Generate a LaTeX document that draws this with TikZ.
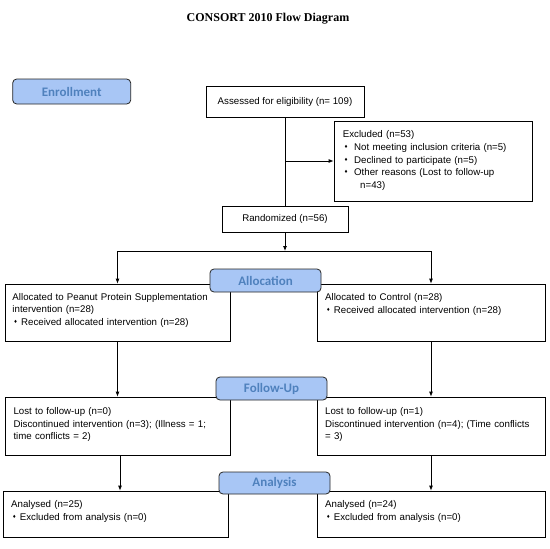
\documentclass[tikz,border=0pt]{standalone}
\usepackage{fontspec}
\setmainfont{Liberation Sans}
\newfontfamily\titlefont{Liberation Serif}
\newfontfamily\labfont{Carlito}
\newfontfamily\dejavu{DejaVu Sans}
\usetikzlibrary{arrows.meta}
\definecolor{labfill}{RGB}{168,198,245}
\definecolor{labtext}{RGB}{79,129,189}
\newcommand\bul[1]{\makebox[#1][l]{\hspace{1.2pt}\raisebox{1.8pt}{\dejavu\fontsize{4.5}{5}\selectfont ♦}}}
\begin{document}
\begin{tikzpicture}[x=1pt,y=-1pt,
  box/.style={draw, line width=0.8pt, inner sep=0pt},
  lab/.style={draw=black!85, line width=0.8pt, fill=labfill, rounded corners=4pt, text=labtext,
    font=\labfont\bfseries\fontsize{13}{15}\selectfont, inner sep=0pt},
  txt/.style={anchor=base west, inner sep=0pt, text width=222pt, align=left,
    font=\fontsize{9.7}{12.6}\selectfont},
  arr/.style={line width=0.8pt, -{Latex[length=5pt,width=4pt]}},
  ln/.style={line width=0.8pt}]
\useasboundingbox (0,0) rectangle (550,549);
\fill[white] (0,0) rectangle (550,549);

\node[font=\titlefont\bfseries\fontsize{12}{14}\selectfont] (title) at (268,19) {CONSORT 2010 Flow Diagram};

% boxes
\node[box, minimum width=158pt, minimum height=31pt, font=\fontsize{9.7}{12}\selectfont] (assess) at (285,101.5) {Assessed for eligibility (n= 109)};
\node[box, minimum width=198pt, minimum height=80pt] (excl) at (433,161) {};
\node[box, minimum width=126pt, minimum height=26pt, font=\fontsize{9.7}{12}\selectfont] (rand) at (285,219) {Randomized (n=56)};
\node[box, minimum width=225pt, minimum height=57pt] (allocL) at (117.5,312.5) {};
\node[box, minimum width=228pt, minimum height=57pt] (allocR) at (431,312.5) {};
\node[box, minimum width=225pt, minimum height=58pt] (fupL) at (117.5,426) {};
\node[box, minimum width=228pt, minimum height=58pt] (fupR) at (431,426) {};
\node[box, minimum width=225pt, minimum height=46pt] (anL) at (115.5,514) {};
\node[box, minimum width=228pt, minimum height=46pt] (anR) at (431,514) {};

% texts
\node[txt] (exclt) at (342.7,137.8) {Excluded (n=53)\\
\bul{11.3pt}Not meeting inclusion criteria (n=5)\\
\bul{11.3pt}Declined to participate (n=5)\\
\bul{11.3pt}Other reasons (Lost to follow-up\\
\hspace*{17.3pt}n=43)};
\node[txt] (allocLt) at (12.3,300.2) {Allocated to Peanut Protein Supplementation\\
intervention (n=28)\\
\bul{8.7pt}Received allocated intervention (n=28)};
\node[txt] (allocRt) at (325,300.5) {Allocated to Control (n=28)\\
\bul{8.7pt}Received allocated intervention (n=28)};
\node[txt] (fupLt) at (13.3,414.5) {Lost to follow-up (n=0)\\
Discontinued intervention (n=3); (Illness = 1;\\
time conflicts = 2)};
\node[txt] (fupRt) at (325,414.5) {Lost to follow-up (n=1)\\
Discontinued intervention (n=4); (Time conflicts\\
= 3)};
\node[txt] (anLt) at (11,507.8) {Analysed (n=25)\\
\bul{8.7pt}Excluded from analysis (n=0)};
\node[txt] (anRt) at (325,507.8) {Analysed (n=24)\\
\bul{8.7pt}Excluded from analysis (n=0)};

% connectors
\coordinate (split) at (285,251);
\draw[ln] (assess) -- (rand);
\draw[arr] (assess.south |- excl.west) -- (excl.west);
\draw[arr] (rand) -- (split);
\draw[arr] (split) -| (allocL.north);
\draw[arr] (split) -| (allocR.north);
\draw[arr] (allocL.south) -- (fupL.north);
\draw[arr] (allocR.south) -- (fupR.north);
\draw[arr] ([xshift=2.5pt]fupL.south) -- ([xshift=2.5pt]fupL.south |- anL.north);
\draw[arr] (fupR.south) -- (anR.north);

% stage labels
\node[lab, minimum width=118pt, minimum height=25pt] (enr) at (71.7,91.5) {Enrollment};
\node[lab, minimum width=111pt, minimum height=23pt] (alloclab) at (265.5,280.5) {Allocation};
\node[lab, minimum width=111pt, minimum height=23pt] (fuplab) at (271.5,388.5) {Follow-Up};
\node[lab, minimum width=111pt, minimum height=22pt] (anlab) at (274.5,483) {Analysis};
\end{tikzpicture}
\end{document}
